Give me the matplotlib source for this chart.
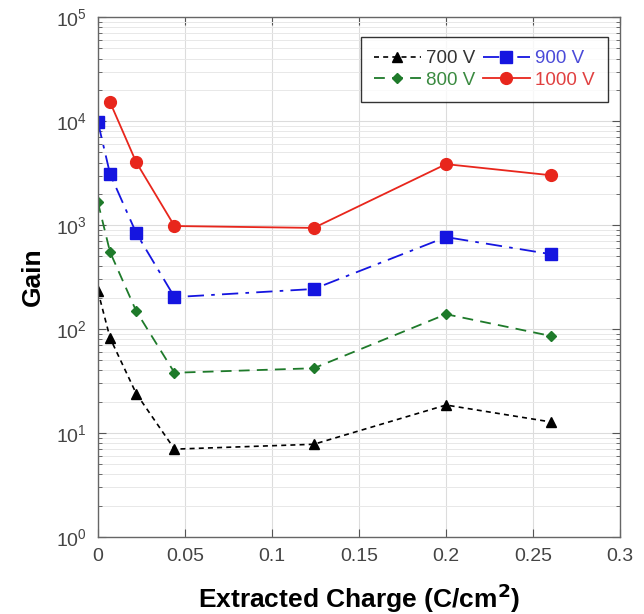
import matplotlib
matplotlib.use('Agg')
import matplotlib.pyplot as plt
import numpy as np
from matplotlib.ticker import LogLocator, NullFormatter, FixedLocator

plt.rcParams['font.family'] = ['Liberation Sans', 'DejaVu Sans']

# extracted charge (C/cm^2)
q = [0, 0.007, 0.022, 0.044, 0.124, 0.2, 0.26]
q_1000 = [0.007, 0.022, 0.044, 0.124, 0.2, 0.26]

# gain at each voltage
gain_700 = [232, 82, 24, 7.0, 7.8, 18.6, 12.8]
gain_800 = [1660, 550, 149, 38, 42, 139, 86]
gain_900 = [9800, 3100, 840, 203, 243, 767, 526]
gain_1000 = [15200, 4030, 980, 940, 3860, 3020]

fig = plt.figure(figsize=(6.44, 6.14), dpi=100)
ax = fig.add_axes([0.152, 0.1254, 0.811, 0.8466])

ax.plot(q, gain_700, linestyle=(0, (3, 2.5)), color='black', lw=1.2,
        marker='^', markersize=7, label='700 V')
ax.plot(q, gain_800, linestyle=(0, (6, 4)), color='#1e7a2a', lw=1.3,
        marker='D', markersize=5.5, label='800 V')
ax.plot(q, gain_900, linestyle=(0, (9, 4, 2, 4)), color='#1515e0', lw=1.3,
        marker='s', markersize=8.5, label='900 V')
ax.plot(q_1000, gain_1000, linestyle='-', color='#e8261c', lw=1.3,
        marker='o', markersize=8.5, label='1000 V')

ax.set_yscale('log')
ax.set_xlim(0, 0.3)
ax.set_ylim(1, 1e5)
ax.xaxis.set_major_locator(FixedLocator([0, 0.05, 0.1, 0.15, 0.2, 0.25, 0.3]))
ax.set_xticklabels(['0', '0.05', '0.1', '0.15', '0.2', '0.25', '0.3'])
ax.yaxis.set_major_locator(LogLocator(base=10, numticks=10))
ax.yaxis.set_minor_locator(LogLocator(base=10, subs=np.arange(2, 10), numticks=10))
ax.yaxis.set_minor_formatter(NullFormatter())

ax.grid(True, which='major', color='#dcdcdc', lw=0.8)
ax.grid(True, which='minor', axis='y', color='#e8e8e8', lw=0.7)
ax.set_axisbelow(True)

ax.tick_params(which='both', direction='in', top=True, right=True,
               colors='#555555', labelcolor='#444444', labelsize=14)
ax.tick_params(which='major', length=6, pad=8)
ax.tick_params(which='minor', length=3)
for s in ax.spines.values():
    s.set_color('#666666')
    s.set_linewidth(1.0)

ax.set_xlabel('Extracted Charge (C/cm$^{\\mathbf{2}}$)', fontsize=19,
              fontweight='bold', labelpad=12)
ax.set_ylabel('Gain', fontsize=19, fontweight='bold', labelpad=8)

leg = ax.legend(loc='upper right', bbox_to_anchor=(0.977, 0.962), ncol=2,
                fontsize=13.5, frameon=True, fancybox=False, handlelength=2.5,
                columnspacing=0.4, handletextpad=0.3, borderpad=0.7,
                labelspacing=0.25, borderaxespad=0)
leg.get_frame().set_edgecolor('black')
leg.get_frame().set_linewidth(1.0)
for txt, c in zip(leg.get_texts(), ['#333333', '#3a8a40', '#4a4ad8', '#e04040']):
    txt.set_color(c)

fig.savefig('out.png', dpi=100)
